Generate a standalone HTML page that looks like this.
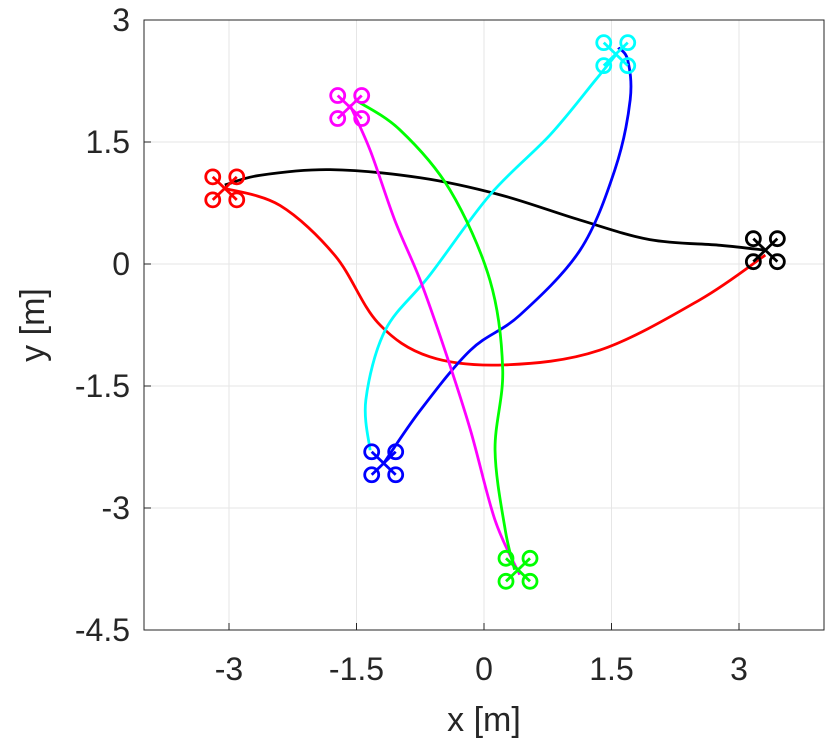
<!DOCTYPE html>
<html><head><meta charset="utf-8"><style>
html,body{margin:0;padding:0;background:#fff;}
svg text{font-family:"Liberation Sans",sans-serif;fill:#262626;}
</style></head><body>
<svg id="chart" width="830" height="742" viewBox="0 0 830 742" xmlns="http://www.w3.org/2000/svg">
<g id="grid"></g>
<g id="paths"></g>
<g id="drones"></g>
<rect x="144" y="20" width="680" height="610" fill="none" stroke="#262626" stroke-width="1"/>
<g id="ticks"></g>
<text x="484" y="731" text-anchor="middle" font-size="34">x [m]</text>
<text transform="translate(44,325) rotate(-90)" text-anchor="middle" font-size="34">y [m]</text>
</svg>
<script>
const xTicks=[-3,-1.5,0,1.5,3];
const xTickLabels=["-3","-1.5","0","1.5","3"];
const yTicks=[3,1.5,0,-1.5,-3,-4.5];
const yTickLabels=["3","1.5","0","-1.5","-3","-4.5"];
const seriesNames=["red","black","cyan","blue","magenta","green"];
const seriesColors=["#ff0000","#000000","#00ffff","#0000ff","#ff00ff","#00ff00"];
const redPath=[[-3.05,0.93],[-2.4,0.72],[-1.75,0.1],[-1.25,-0.72],[-0.64,-1.14],[0.25,-1.24],[1.36,-1.06],[2.54,-0.44],[3.31,0.11]];
const blackPath=[[-3.05,0.97],[-2.64,1.09],[-1.81,1.16],[-0.75,1.06],[0.19,0.85],[1.13,0.54],[1.95,0.30],[2.78,0.23],[3.31,0.17]];
const cyanPath=[[-1.34,-2.29],[-1.39,-1.67],[-1.16,-0.81],[-0.64,-0.14],[0.07,0.85],[0.78,1.59],[1.31,2.26],[1.55,2.57]];
const bluePath=[[-1.18,-2.45],[-0.75,-1.80],[-0.16,-1.06],[0.42,-0.63],[1.13,0.17],[1.54,1.16],[1.72,2.02],[1.69,2.51],[1.58,2.66]];
const magentaPath=[[-1.58,1.96],[-1.34,1.40],[-1.05,0.54],[-0.75,-0.20],[-0.46,-1.06],[-0.16,-2.04],[0.13,-3.15],[0.42,-3.82]];
const greenPath=[[-1.52,2.02],[-0.99,1.65],[-0.40,0.91],[0.07,-0.20],[0.22,-1.30],[0.13,-2.29],[0.25,-3.27],[0.36,-3.76]];
const droneX=[-3.05,3.31,1.55,-1.18,-1.58,0.40];
const droneY=[0.93,0.17,2.58,-2.45,1.93,-3.76];

const NS="http://www.w3.org/2000/svg";
const L=144,R=824,T=20,B=630;
const xMin=-4,xMax=4,yMin=-4.5,yMax=3;
function sx(v){return L+(v-xMin)/(xMax-xMin)*(R-L);}
function sy(v){return B-(v-yMin)/(yMax-yMin)*(B-T);}
function mk(tag,attrs,parent){const e=document.createElementNS(NS,tag);for(const k in attrs)e.setAttribute(k,attrs[k]);parent.appendChild(e);return e;}
const grid=document.getElementById('grid'),ticks=document.getElementById('ticks');
xTicks.forEach((v,i)=>{
 const g=mk('line',{x1:sx(v),x2:sx(v),y1:T,y2:B,stroke:'#e6e6e6','stroke-width':1},grid);
 
 
 mk('line',{x1:sx(v),x2:sx(v),y1:B,y2:B-7,stroke:'#262626'},grid);
 const t=mk('text',{x:sx(v),y:B+50,'text-anchor':'middle','font-size':32},ticks);
 t.textContent=xTickLabels[i];
 
 
});
yTicks.forEach((v,i)=>{
 const g=mk('line',{x1:L,x2:R,y1:sy(v),y2:sy(v),stroke:'#e6e6e6','stroke-width':1},grid);
 
 
 mk('line',{x1:L,x2:L+7,y1:sy(v),y2:sy(v),stroke:'#262626'},grid);
 const t=mk('text',{x:L-14,y:sy(v)+11,'text-anchor':'end','font-size':32},ticks);
 t.textContent=yTickLabels[i];
 
 
});
function curve(pts){
 const p=pts.map(a=>[sx(a[0]),sy(a[1])]);
 let d='M'+p[0][0]+','+p[0][1];
 for(let i=0;i<p.length-1;i++){
  const p0=p[i-1]||p[i],p1=p[i],p2=p[i+1],p3=p[i+2]||p2;
  const c1=[p1[0]+(p2[0]-p0[0])/6,p1[1]+(p2[1]-p0[1])/6];
  const c2=[p2[0]-(p3[0]-p1[0])/6,p2[1]-(p3[1]-p1[1])/6];
  d+=' C'+c1+' '+c2+' '+p2;
 }
 return d;
}
const allPaths=[redPath,blackPath,cyanPath,bluePath,magentaPath,greenPath];
const pg=document.getElementById('paths');
allPaths.forEach((pts,i)=>{
 const e=mk('path',{d:curve(pts),fill:'none',stroke:seriesColors[i],'stroke-width':2.8},pg);
 
 
});
const dg=document.getElementById('drones');
droneX.forEach((x,i)=>{
 const cx=sx(x),cy=sy(droneY[i]);
 const g=mk('g',{stroke:seriesColors[i],'stroke-width':2.8,fill:'none'},dg);
 
 
 const dx=12,dy=11.5;
 mk('line',{x1:cx-dx,y1:cy-dy,x2:cx+dx,y2:cy+dy},g);
 mk('line',{x1:cx+dx,y1:cy-dy,x2:cx-dx,y2:cy+dy},g);
 [[-1,-1],[1,-1],[-1,1],[1,1]].forEach(s=>mk('circle',{cx:cx+s[0]*dx,cy:cy+s[1]*dy,r:7},g));
});
</script>
</body></html>
